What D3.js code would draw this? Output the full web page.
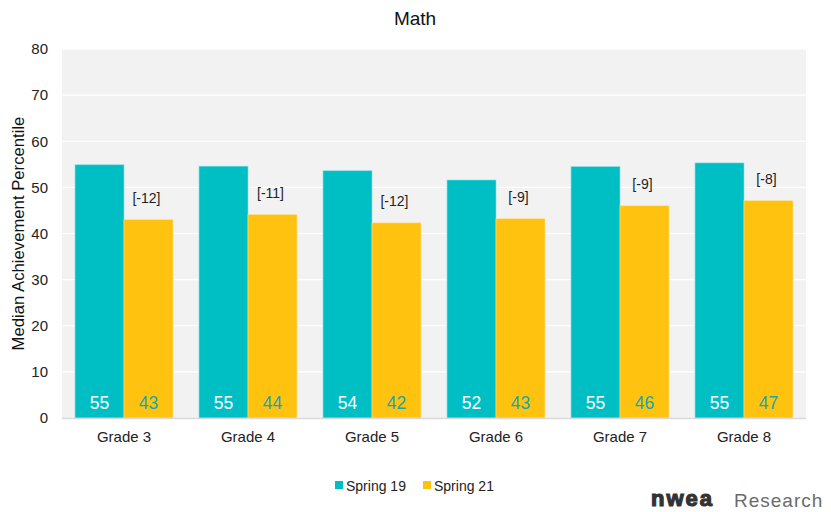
<!DOCTYPE html>
<html>
<head>
<meta charset="utf-8">
<script src="https://cdn.jsdelivr.net/npm/d3@7"></script>
<style>
  body { margin: 0; background: #fff; }
  text { font-family: "Liberation Sans", Arial, sans-serif; }
</style>
</head>
<body>
<script>
// data
const grades = ["Grade 3", "Grade 4", "Grade 5", "Grade 6", "Grade 7", "Grade 8"];
const seriesNames = ["Spring 19", "Spring 21"];
const spring19 = [54.9, 54.6, 53.6, 51.6, 54.5, 55.3];
const spring21 = [43.0, 44.1, 42.3, 43.2, 46.0, 47.1];
const yTicks = [0, 10, 20, 30, 40, 50, 60, 70, 80];

const W = 831, H = 512;
const teal = "#00bfc4", gold = "#fec20f";

let svg = d3.select("body").append("svg")
    .attr("width", W)
    .attr("height", H);

const plotL = 62, plotR = 806, plotT = 49, plotB = 418;

let x = d3.scaleBand().domain(grades).range([plotL, plotR]).paddingInner(0.21).paddingOuter(0.105);
let xs = d3.scaleBand().domain(seriesNames).range([0, x.bandwidth()]);
let y = d3.scaleLinear().domain([0, 80]).range([plotB, plotT]);

// plot background
svg.append("rect")
    .attr("x", plotL).attr("y", plotT)
    .attr("width", plotR - plotL).attr("height", plotB - plotT)
    .attr("fill", "#f2f2f2");

// gridlines
svg.append("g").selectAll("line")
    .data(yTicks.filter(d => d > 0))
    .enter().append("line")
    .attr("x1", plotL).attr("x2", plotR)
    .attr("y1", d => y(d)).attr("y2", d => y(d))
    .attr("stroke", "#ffffff").attr("stroke-width", 1.2);

// y axis labels
let yAxis = svg.append("g")
    .attr("transform", `translate(${plotL - 14},0)`)
    .call(d3.axisLeft(y).tickValues(yTicks).tickSize(0).tickPadding(0));
yAxis.select(".domain").remove();
yAxis.selectAll("text").attr("font-size", 15).attr("fill", "#222");

// bars
let rows = grades.map((g, i) => ({grade: g, a: spring19[i], b: spring21[i]}));
let grp = svg.append("g").selectAll("g")
    .data(rows)
    .enter().append("g")
    .attr("transform", d => `translate(${x(d.grade)},0)`);

grp.append("rect")
    .attr("x", xs("Spring 19"))
    .attr("y", d => y(d.a))
    .attr("width", xs.bandwidth())
    .attr("height", d => y(0) - y(d.a))
    .attr("fill", teal)
    .attr("stroke", "#7fdfe1").attr("stroke-width", 0.6);

grp.append("rect")
    .attr("x", xs("Spring 21"))
    .attr("y", d => y(d.b))
    .attr("width", xs.bandwidth())
    .attr("height", d => y(0) - y(d.b))
    .attr("fill", gold)
    .attr("stroke", "#ffe08a").attr("stroke-width", 0.6);

// value labels at bar foot
grp.append("text")
    .attr("x", xs("Spring 19") + xs.bandwidth() / 2)
    .attr("y", y(0) - 9)
    .attr("text-anchor", "middle")
    .attr("font-size", 17.5)
    .attr("fill", "#ffffff")
    .text(d => Math.round(d.a));

grp.append("text")
    .attr("x", xs("Spring 21") + xs.bandwidth() / 2)
    .attr("y", y(0) - 9)
    .attr("text-anchor", "middle")
    .attr("font-size", 17.5)
    .attr("fill", "#1aa6a8")
    .text(d => Math.round(d.b));

// difference labels
grp.append("text")
    .attr("x", xs("Spring 21") + xs.bandwidth() / 2 - 2)
    .attr("y", d => y(d.b) - 17)
    .attr("text-anchor", "middle")
    .attr("font-size", 14)
    .attr("fill", "#222")
    .text(d => "[" + (Math.round(d.b) - Math.round(d.a)) + "]");

// x axis
svg.append("line")
    .attr("x1", plotL).attr("x2", plotR)
    .attr("y1", plotB + 0.5).attr("y2", plotB + 0.5)
    .attr("stroke", "#d9d9d9").attr("stroke-width", 1.5);

let xAxis = svg.append("g")
    .attr("transform", `translate(0,${plotB + 13})`)
    .call(d3.axisBottom(x).tickSize(0).tickPadding(0));
xAxis.select(".domain").remove();
xAxis.selectAll("text").attr("font-size", 15).attr("fill", "#222");

// title
svg.append("text")
    .attr("x", 415).attr("y", 25)
    .attr("text-anchor", "middle")
    .attr("font-size", 19)
    .attr("fill", "#111")
    .text("Math");

// y axis title
svg.append("text")
    .attr("transform", `translate(24,${(plotT + plotB) / 2}) rotate(-90)`)
    .attr("text-anchor", "middle")
    .attr("font-size", 16.7)
    .attr("fill", "#111")
    .text("Median Achievement Percentile");

// legend
let legend = svg.append("g").selectAll("g")
    .data(seriesNames)
    .enter().append("g")
    .attr("transform", (d, i) => `translate(${335 + i * 88},481)`);
legend.append("rect")
    .attr("width", 8).attr("height", 8)
    .attr("fill", (d, i) => i == 0 ? teal : gold);
legend.append("text")
    .attr("x", 11).attr("y", 9.5)
    .attr("font-size", 14)
    .attr("fill", "#222")
    .text(d => d);

// logo
svg.append("text")
    .attr("x", 651).attr("y", 506)
    .attr("font-family", "'DejaVu Sans', sans-serif")
    .attr("font-weight", "bold")
    .attr("font-size", 22)
    .attr("letter-spacing", 2)
    .attr("fill", "#333")
    .attr("stroke", "#333").attr("stroke-width", 1.2)
    .text("nwea");
svg.append("text")
    .attr("x", 734).attr("y", 507)
    .attr("font-family", "Inter, 'DejaVu Sans', sans-serif")
    .attr("font-size", 19)
    .attr("letter-spacing", 1)
    .attr("fill", "#6b6b6b")
    .text("Research");
</script>
</body>
</html>
